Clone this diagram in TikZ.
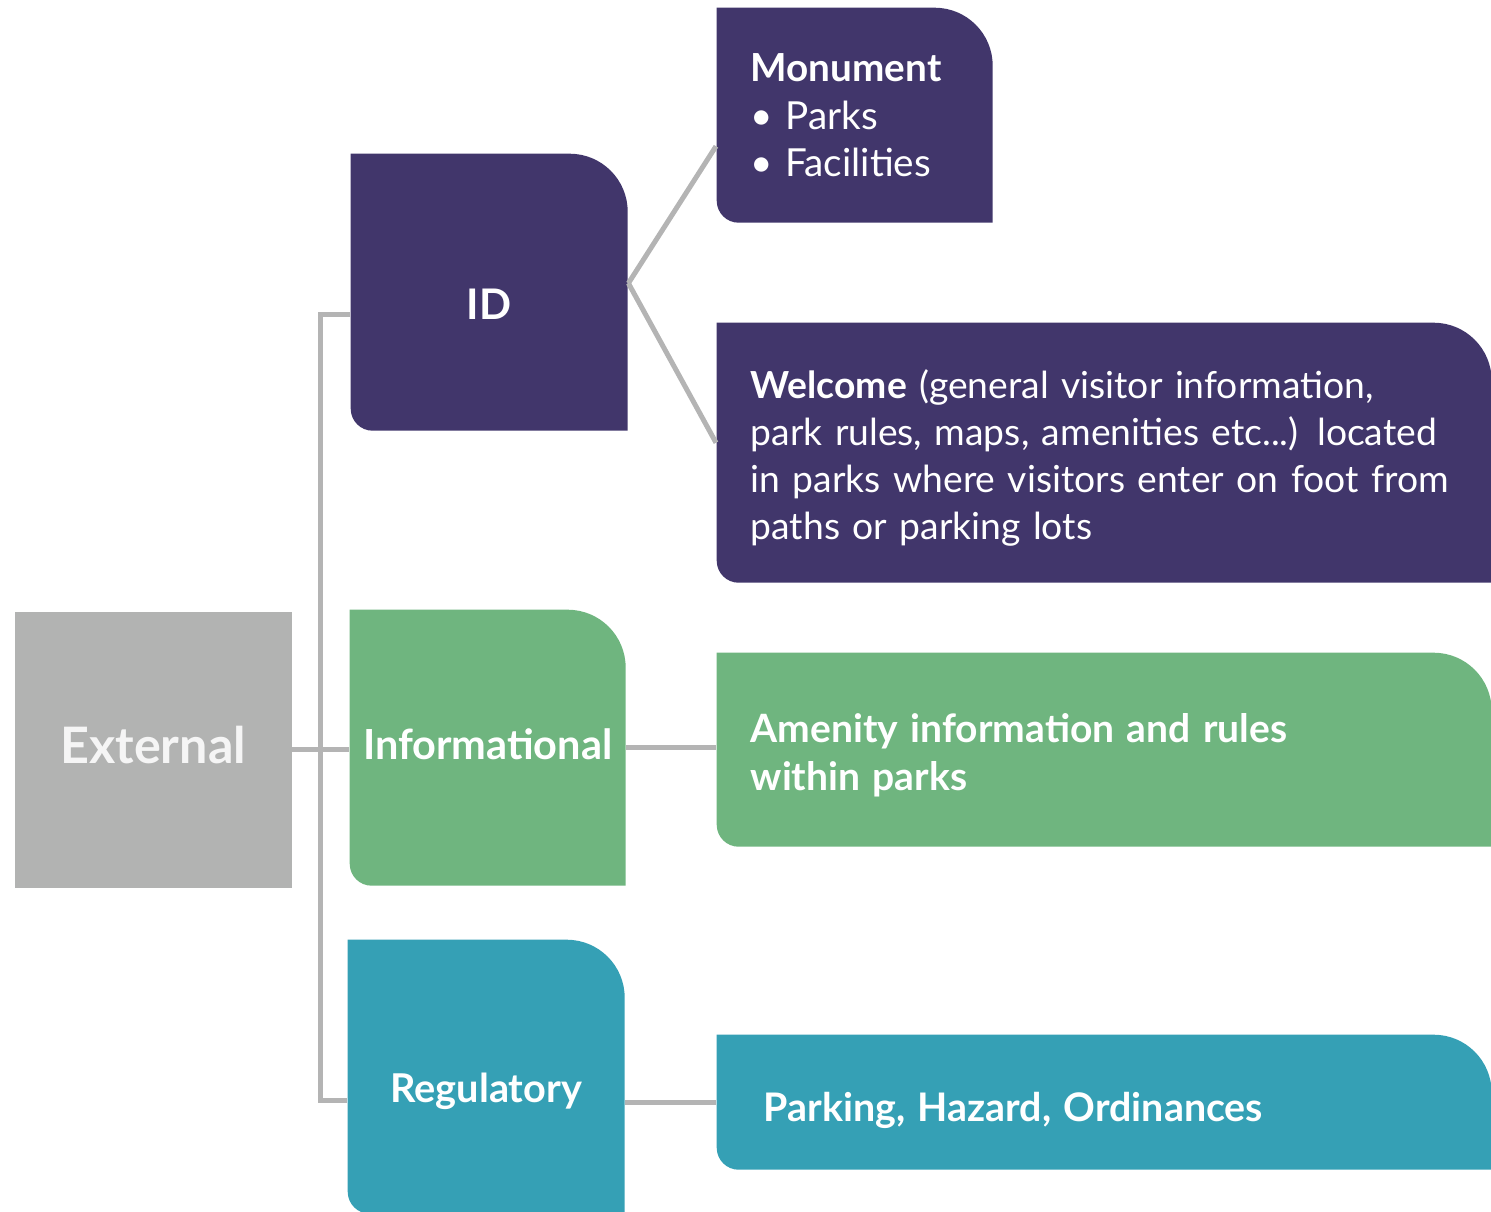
\documentclass[tikz,border=0pt]{standalone}
\usepackage{fontspec}
\setmainfont{Lato}
\usetikzlibrary{calc,
positioning}

\definecolor{extgrey}{HTML}{B2B3B2}
\definecolor{idpurple}{HTML}{41366B}
\definecolor{infogreen}{HTML}{6FB57F}
\definecolor{regteal}{HTML}{35A0B5}
\definecolor{linkgrey}{HTML}{B4B4B4}

\begin{document}
\begin{tikzpicture} [-,
    every node/.style={font={\fontsize{10.6}{13.4}\selectfont}},
    link/.style={draw = linkgrey, line width = 0.05cm},
    tile/.style={rectangle, inner sep = 0pt, text = white,
        anchor = north west, align = center,
        path picture={\fill [#1]
            (path picture bounding box.north west)
            -- ([xshift=-0.58cm]path picture bounding box.north east)
            arc [start angle = 90, end angle = 0, radius = 0.58cm]
            -- (path picture bounding box.south east)
            -- ([xshift=0.22cm]path picture bounding box.south west)
            arc [start angle = 270, end angle = 180, radius = 0.22cm]
            -- cycle;}},
    wide tile/.style={tile = #1, align = left,
        inner xsep = 0.34cm, text width = 7.07cm}
  ]
  \useasboundingbox (0, 0) rectangle (14.91, -12.11);

  \node [rectangle,
    fill = extgrey,
    text = white!96!black,
    anchor = north west,
    minimum width = 2.77cm,
    minimum height = 2.76cm,
    text height = 7.8pt,
    text depth = 0pt
  ] (ext) at (0.14, -6.11) {\bfseries\fontsize{14.3}{16}\selectfont External};

  \node [tile = idpurple,
    minimum width = 2.77cm,
    minimum height = 2.77cm,
    text height = 15.4pt,
    text depth = 0pt
  ] (id) at (3.50, -1.53) {\bfseries\fontsize{12}{14}\selectfont ID};
  \node [tile = infogreen,
    minimum width = 2.76cm,
    minimum height = 2.76cm,
    text height = 6.5pt,
    text depth = 0pt
  ] (info) at (3.49, -6.09) {\bfseries\fontsize{11.8}{14}\selectfont Informational};
  \node [tile = regteal,
    minimum width = 2.77cm,
    minimum height = 2.74cm,
    text height = 14.7pt,
    text depth = 0pt
  ] (reg) at (3.47, -9.39) {\bfseries\fontsize{11.3}{14}\selectfont Regulatory};

  \node [tile = idpurple,
    align = left,
    inner xsep = 0.34cm,
    text width = 2.08cm,
    minimum height = 2.15cm
  ] (monu) at (7.16, -0.07) {\fontsize{11}{13.4}\selectfont\textbf{Monument}\\\textbullet{} Parks\\\textbullet{} Facilities};
  \node [wide tile = idpurple,
    minimum height = 2.60cm,
    text depth = 39pt
  ] (welc) at (7.16, -3.22) {\textbf{Welcome} (general visitor information,\\park rules, maps, amenities etc...) located\\in parks where visitors enter on foot from\\paths or parking lots};
  \node [wide tile = infogreen,
    minimum height = 1.94cm,
    text depth = 12.1pt
  ] (amen) at (7.16, -6.52) {\bfseries\fontsize{11.1}{13.6}\selectfont Amenity information and rules\\within parks};
  \node [wide tile = regteal,
    inner xsep = 0.47cm,
    text width = 6.81cm,
    minimum height = 1.35cm,
    text height = 11.2pt,
    text depth = 0pt
  ] (park) at (7.16, -10.34) {\bfseries\fontsize{11.2}{13.4}\selectfont Parking, Hazard, Ordinances};

  % tree lines
  \coordinate (spine top) at (3.20, -3.14);
  \coordinate (spine bot) at (3.20, -11.00);
  \draw [link] (spine top -| id.west) -- (spine top) -- (spine bot) -- (spine bot -| reg.west);
  \draw [link] (ext.east) -- (ext.east -| info.west);
  \draw [link] (info.east) -- (info.east -| amen.west);
  \draw [link] (park.west) -- (park.west -| reg.east);

  \coordinate (fork) at ($(id.east) + (0, 0.09)$);
  \draw [link] (fork) -- ($(monu.west) + (0, -0.31)$);
  \draw [link] (fork) -- ($(welc.west) + (0, 0.10)$);

\end{tikzpicture}
\end{document}
